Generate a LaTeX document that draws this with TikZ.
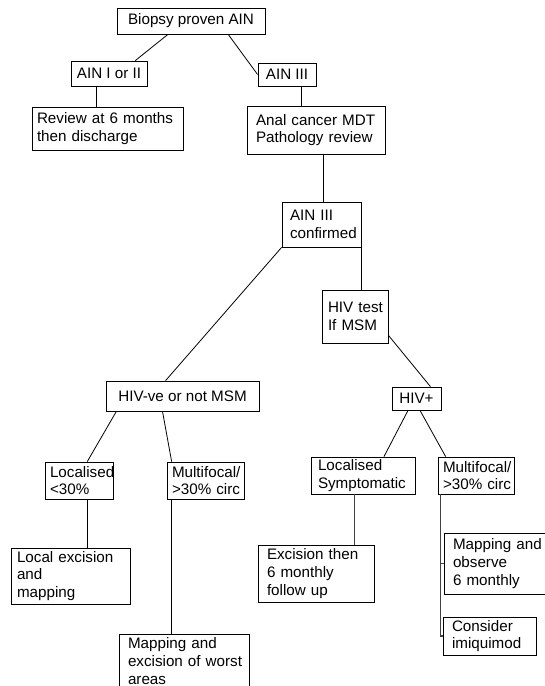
\documentclass[tikz,border=0pt]{standalone}
\usepackage{fontspec}
\setmainfont{Liberation Sans}
\usetikzlibrary{calc}
\hyphenpenalty=10000
\exhyphenpenalty=10000
\begin{document}
\begin{tikzpicture}[x=1pt,y=-1pt,
  box/.style={draw=black, line width=0.8pt, inner ysep=2pt, font=\fontsize{15.2}{17.7}\selectfont},
  cbox/.style={box, align=center},
  lbox/.style={box, align=left},
  link/.style={draw=black, line width=0.8pt},
  glink/.style={draw=black!75, line width=1.2pt}]
\useasboundingbox (0,0) rectangle (545,686);
\clip (0,0) rectangle (545,686);

\node[cbox, minimum width=148pt, minimum height=26pt] (bio) at (191,21) {Biopsy proven AIN};
\node[cbox, minimum width=76pt, minimum height=25pt] (ain12) at (109,73.5) {AIN I or II};
\node[cbox, minimum width=58pt, minimum height=23pt] (ain3) at (287,74.5) {AIN III};
\node[lbox, text width=141pt, inner xsep=5pt, minimum height=43pt] (review) at (107.5,128.5) {Review~at~6~months\\then~discharge};
\node[lbox, text width=120pt, inner xsep=9pt, minimum height=48pt] (anal) at (316,130) {Anal~cancer~MDT\\Pathology~review};
\node[lbox, text width=63pt, inner xsep=8pt, minimum height=45pt] (conf) at (321.5,224.5) {AIN~III\\confirmed};
\node[lbox, text width=54pt, inner xsep=6pt, minimum height=53pt] (hivtest) at (355,316.5) {HIV~test\\If~MSM};
\node[cbox, minimum width=153pt, minimum height=30pt] (hivneg) at (182.5,396) {HIV-ve or not MSM};
\node[cbox, minimum width=49pt, minimum height=23pt] (hivpos) at (416.5,398.5) {HIV+};
\node[lbox, text width=58pt, inner xsep=5pt, minimum height=37pt] (loc1) at (79,480.5) {Localised\\<30\%};
\node[lbox, text width=67pt, inner xsep=5pt, minimum height=37pt] (multi1) at (205.5,480.5) {Multifocal/\\>30\%~circ};
\node[lbox, text width=90pt, inner xsep=7pt, minimum height=37pt] (locsym) at (363,475.5) {Localised\\Symptomatic};
\node[lbox, text width=66pt, inner xsep=5pt, minimum height=37pt] (multi2) at (476,475.5) {Multifocal/\\>30\%~circ};
\node[lbox, text width=107pt, inner xsep=6pt, minimum height=56pt] (locexc) at (70.5,576) {Local~excision\\and\\mapping};
\node[lbox, text width=112pt, inner xsep=9pt, minimum height=53pt, anchor=north] (mapexc) at (184,634) {Mapping~and\\excision~of~worst\\areas};
\node[lbox, text width=98pt, inner xsep=9pt, minimum height=57pt] (excis) at (316,573.5) {Excision~then\\6~monthly\\follow~up};
\node[lbox, text width=88pt, inner xsep=9pt, minimum height=61pt] (mapobs) at (497,563.5) {Mapping~and\\observe\\6~monthly};
\node[lbox, text width=75pt, inner xsep=9pt, minimum height=38pt] (consider) at (489.5,636) {Consider\\imiquimod};

\draw[link] ($(bio.south west)!0.345!(bio.south east)$) -- ($(ain12.north west)!0.842!(ain12.north east)$);
\draw[link] ($(bio.south west)!0.75!(bio.south east)$) -- (ain3.west);
\draw[link] ($(ain12.south west)!0.34!(ain12.south east)$) coordinate (pa) -- (pa |- review.north);
\draw[link] ($(ain3.south west)!0.74!(ain3.south east)$) coordinate (pb) -- (pb |- anal.north);
\draw[link] ($(anal.south west)!0.55!(anal.south east)$) coordinate (pc) -- (pc |- conf.north);
\draw[link] (conf.south west) -- ($(hivneg.north west)!0.39!(hivneg.north east)$);
\draw[link] (conf.south east) -- (conf.south east |- hivtest.north);
\draw[link] ($(hivtest.north east)!0.85!(hivtest.south east)$) -- ($(hivpos.north west)!0.78!(hivpos.north east)$);
\draw[link] ($(hivneg.south west)!0.07!(hivneg.south east)$) -- ($(loc1.north west)!0.62!(loc1.north east)$);
\draw[link] ($(hivneg.south west)!0.37!(hivneg.south east)$) -- ($(multi1.north west)!0.065!(multi1.north east)$);
\draw[link] ($(hivpos.south west)!0.33!(hivpos.south east)$) -- ($(locsym.north west)!0.70!(locsym.north east)$);
\draw[link] ($(hivpos.south west)!0.57!(hivpos.south east)$) -- ($(multi2.north west)!0.105!(multi2.north east)$);
\draw[link] ($(loc1.south west)!0.62!(loc1.south east)$) coordinate (pd) -- (pd |- locexc.north);
\draw[link] ($(multi1.south west)!0.065!(multi1.south east)$) coordinate (pe) -- (pe |- mapexc.north);
\draw[glink] ($(locsym.south west)!0.42!(locsym.south east)$) coordinate (pf) -- (pf |- excis.north);
\draw[glink] ($(multi2.south west)!0.04!(multi2.south east)$) coordinate (pg) |- (mapobs.west) (pg) |- (consider.west);
\end{tikzpicture}
\end{document}
